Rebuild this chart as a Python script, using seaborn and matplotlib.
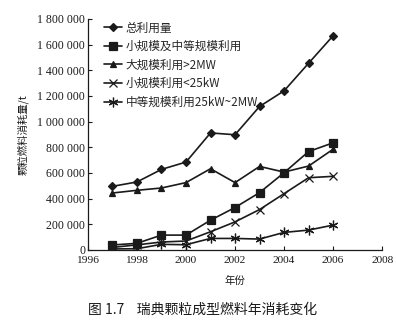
import matplotlib
matplotlib.use("Agg")
import matplotlib.pyplot as plt
import seaborn as sns
import pandas as pd
from matplotlib.ticker import FuncFormatter
from matplotlib.lines import Line2D

years = [1997, 1998, 1999, 2000, 2001, 2002, 2003, 2004, 2005, 2006]
total = [496000, 530000, 628000, 685000, 912000, 898000, 1118000, 1240000, 1455000, 1669000]
small_medium = [39000, 52000, 116000, 116000, 232000, 331000, 447000, 602000, 767000, 835000]
large = [444000, 465000, 483000, 525000, 633000, 525000, 651000, 607000, 654000, 785000]
small = [20000, 40000, 62000, 70000, 142000, 219000, 315000, 439000, 563000, 574000]
medium = [8000, 10000, 44000, 41000, 90000, 90000, 85000, 137000, 155000, 194000]

series_names = ["总利用量", "小规模及中等规模利用", "大规模利用>2MW", "小规模利用<25kW", "中等规模利用25kW~2MW"]
series_vals = [total, small_medium, large, small, medium]

sns.set_style("ticks")
plt.rcParams['font.family'] = ['Liberation Serif', 'Noto Sans CJK SC', 'DejaVu Sans']

fig = plt.figure(figsize=(3.96, 3.27), dpi=100)
ax = fig.add_axes([0.222, 0.2355, 0.743, 0.7065])

markers = ['D', 's', '^', 'x', (6, 2, 0)]
sizes = [4, 6, 5, 6, 7]
color = '#1a1a1a'

for name, vals, m, ms in zip(series_names, series_vals, markers, sizes):
    d = pd.DataFrame({"年份": years, "value": vals})
    sns.lineplot(data=d, x="年份", y="value", ax=ax, color=color, linewidth=1.2,
                 marker=m, markersize=ms, markeredgewidth=0.9,
                 markeredgecolor=color, markerfacecolor=color)

handles = [Line2D([], [], color=color, lw=1.2, marker=m, markersize=ms,
                  markeredgewidth=0.9) for m, ms in zip(markers, sizes)]
ax.legend(handles, series_names, loc='upper left', bbox_to_anchor=(0.03, 1.02),
          frameon=False, handlelength=1.55, handletextpad=0.35,
          labelspacing=0.48, borderaxespad=0.2,
          prop={'family': ['Noto Sans CJK SC', 'DejaVu Sans'], 'size': 8.4})

ax.set_xlim(1996, 2008)
ax.set_ylim(0, 1800000)
ax.set_xticks([1996, 1998, 2000, 2002, 2004, 2006, 2008])
ax.set_yticks(range(0, 1800001, 200000))
ax.yaxis.set_major_formatter(FuncFormatter(lambda v, p: f"{int(v):,}".replace(",", " ")))
ax.tick_params(direction='in', length=3, width=0.8, colors=color)
ax.tick_params(axis='y', labelsize=8.5, pad=2)
ax.tick_params(axis='x', labelsize=8.2, pad=4.5)
for s in ['top', 'right']:
    ax.spines[s].set_visible(False)
for s in ['left', 'bottom']:
    ax.spines[s].set_linewidth(0.9)
    ax.spines[s].set_color(color)

ax.set_xlabel("年份", fontsize=7.5, family=['Noto Sans CJK SC'], labelpad=8, color=color)
ax.set_ylabel("颗粒燃料消耗量/t", fontsize=7.5, family=['Noto Sans CJK SC'], labelpad=6, color=color)

fig.text(0.511, 0.052, "图 1.7    瑞典颗粒成型燃料年消耗变化", ha='center', va='center',
         fontsize=10, family=['Noto Sans CJK SC', 'DejaVu Sans'], color=color)

fig.savefig("out.png", dpi=100)
